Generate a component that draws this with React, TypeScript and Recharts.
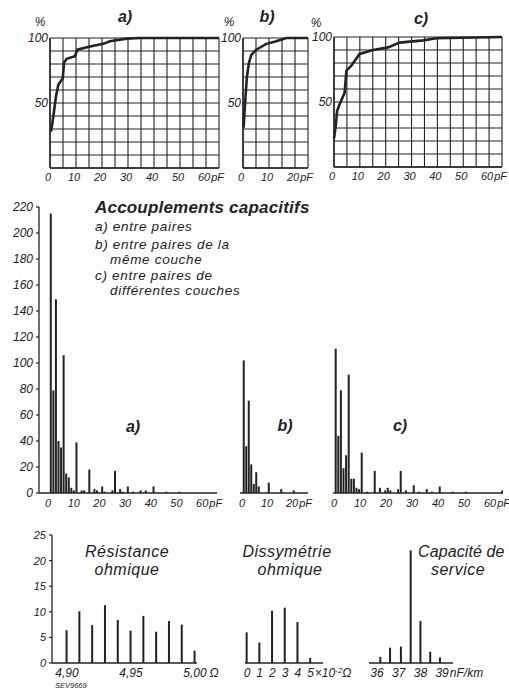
import React from "react";
import { LineChart, Line, BarChart, Bar, XAxis, YAxis, CartesianGrid } from "recharts";

// Accouplements capacitifs / résistance / dissymétrie / capacité — planche SEV 9669

const INK = "#222";
const FONT = "'Liberation Sans', Arial, sans-serif";

// --- courbes cumulées (haut) : x en pF, y en %
const cumAX = [0.4, 1.3, 2.3, 3.2, 4.9, 5.4, 6.4, 9.6, 10.5, 15.4, 20.5, 23, 29.5, 34.6, 65];
const cumAY = [28, 40, 55, 64, 69, 81, 84, 86, 91, 93.5, 95.5, 97.5, 99.5, 100, 100];
const cumBX = [0.25, 0.4, 0.8, 1.5, 2.3, 3.2, 5.1, 9, 12.8, 16.7, 25];
const cumBY = [31, 37, 50, 70, 81, 87, 91, 95.5, 97.5, 100, 100];
const cumCX = [0, 0.65, 1.2, 2.2, 4.1, 4.8, 6.7, 9.9, 15.1, 20.9, 25.4, 34.5, 39.6, 65];
const cumCY = [22, 31, 43, 48.5, 57, 74, 78, 87, 90, 92, 95.7, 97.4, 99, 100];

// --- histogrammes (milieu) : x en pF, y = nombre
const histAX = [0, 1, 2, 3, 4, 5, 6, 7, 8, 9, 10, 12, 13, 15, 17, 18, 20, 21, 24, 25, 27, 28, 30, 32, 35, 37, 40, 45, 50];
const histAY = [215, 79, 149, 40, 35, 106, 15, 12, 4, 2, 39, 2, 2, 18, 3, 2, 5, 1, 2, 17, 3, 1, 5, 1, 2, 2, 5, 1, 1];
const histBX = [0, 1, 2, 3, 4, 5, 6, 10, 15, 20];
const histBY = [102, 36, 71, 22, 7, 16, 5, 8, 3, 2];
const histCX = [0, 1, 2, 3, 4, 5, 6, 7, 8, 9, 10, 12, 15, 17, 19, 20, 21, 24, 25, 27, 30, 32, 35, 37, 40, 45, 50, 64];
const histCY = [111, 44, 79, 19, 29, 91, 11, 11, 4, 3, 31, 1, 17, 4, 2, 4, 2, 3, 17, 2, 6, 1, 3, 1, 5, 1, 1, 2];

// --- bas
const resX = [4.9, 4.91, 4.92, 4.93, 4.94, 4.95, 4.96, 4.97, 4.98, 4.99, 5.0];
const resY = [6.4, 10.1, 7.4, 11.3, 8.4, 6.3, 9.2, 6.1, 8.2, 7.5, 2.4];
const disX = [0, 1, 2, 3, 4, 5];
const disY = [6, 4, 10.2, 10.8, 8, 1];
const capX = [36.1, 36.55, 37.05, 37.5, 37.95, 38.4, 38.85];
const capY = [1.2, 3, 3.2, 22, 8.2, 2.2, 1.1];

// ticks
const grid65 = [0, 5, 10, 15, 20, 25, 30, 35, 40, 45, 50, 55, 60, 65];
const grid25 = [0, 5, 10, 15, 20, 25];
const pctTicks = [0, 10, 20, 30, 40, 50, 60, 70, 80, 90, 100];
const pFLabels60 = [0, 10, 20, 30, 40, 50, 60];
const pFLabels20 = [0, 10, 20];
const countTicks = [0, 20, 40, 60, 80, 100, 120, 140, 160, 180, 200, 220];
const resTicks = [4.9, 4.95, 5.0];
const smallTicks = [0, 5, 10, 15, 20, 25];
const capTicks = [36, 37, 38, 39];

type Rect = { x: number; y: number; w: number; h: number };
type Pad = { l: number; t: number; r: number; b: number };

function box(r: Rect, p: Pad) {
  return {
    style: { position: "absolute" as const, left: r.x - p.l, top: r.y - p.t },
    width: p.l + r.w + p.r,
    height: p.t + r.h + p.b,
    margin: { top: p.t, right: p.r, bottom: 0, left: 0 },
  };
}

type Lab = {
  show: number[];
  fmt?: (v: number) => string;
  unit?: React.ReactNode;
  unitAt?: number;
  dy: number;
  shift?: number;
  size?: number;
};

function xTick(l: Lab) {
  return (p: any) => {
    const v = p.payload.value;
    if (!l.show.includes(v)) return <g />;
    const s = l.size ?? 12;
    const x = p.x + (l.shift ?? -2);
    const txt = l.fmt ? l.fmt(v) : String(v);
    const common = { fontSize: s, fontStyle: "italic", fill: INK, fontFamily: FONT };
    return (
      <g>
        <text x={x} y={p.y + l.dy} textAnchor="middle" {...common}>
          {txt}
        </text>
        {l.unit && v === l.unitAt && (
          <text x={x + txt.length * s * 0.28 + 1} y={p.y + l.dy} textAnchor="start" {...common}>
            {l.unit}
          </text>
        )}
      </g>
    );
  };
}

function yTick(show: number[], size = 12) {
  return (p: any) => {
    const v = p.payload.value;
    if (!show.includes(v)) return <g />;
    return (
      <text x={p.x} y={p.y + size * 0.36} textAnchor="end" fontSize={size} fontStyle="italic" fill={INK} fontFamily={FONT}>
        {v}
      </text>
    );
  };
}

function CumChart({ r, xs, ys, xMax, gridX, labX }: { r: Rect; xs: number[]; ys: number[]; xMax: number; gridX: number[]; labX: number[] }) {
  const data = xs.map((x, i) => ({ x, y: ys[i] }));
  const b = box(r, { l: 30, t: 10, r: 24, b: 22 });
  return (
    <div style={b.style}>
      <LineChart width={b.width} height={b.height} margin={b.margin} data={data}>
        <CartesianGrid stroke={INK} strokeWidth={1.1} />
        <XAxis
          type="number"
          dataKey="x"
          domain={[0, xMax]}
          ticks={gridX}
          interval={0}
          height={22}
          axisLine={{ stroke: INK, strokeWidth: 1.4 }}
          tickLine={false}
          tickSize={0}
          tickMargin={0}
          tick={xTick({ show: labX, unit: "pF", unitAt: labX[labX.length - 1], dy: 13, size: 11 })}
        />
        <YAxis
          type="number"
          domain={[0, 100]}
          ticks={pctTicks}
          interval={0}
          width={30}
          axisLine={{ stroke: INK, strokeWidth: 1.4 }}
          tickLine={false}
          tickSize={0}
          tickMargin={2}
          tick={yTick([50, 100])}
        />
        <Line type="linear" dataKey="y" stroke={INK} strokeWidth={2.6} dot={false} isAnimationActive={false} />
      </LineChart>
    </div>
  );
}

function Hist({
  r, xs, ys, dom, yMax, ticksX, lab, yTicks, padL,
}: {
  r: Rect; xs: number[]; ys: number[]; dom: [number, number]; yMax: number; ticksX: number[]; lab: Lab; yTicks?: number[]; padL: number;
}) {
  const data = xs.map((x, i) => ({ x, y: ys[i] }));
  const b = box(r, { l: padL, t: 10, r: 40, b: 22 });
  return (
    <div style={b.style}>
      <BarChart width={b.width} height={b.height} margin={b.margin} data={data}>
        <XAxis
          type="number"
          dataKey="x"
          domain={dom}
          allowDataOverflow
          ticks={ticksX}
          interval={0}
          height={22}
          axisLine={{ stroke: INK, strokeWidth: 1.3 }}
          tickLine={false}
          tickSize={0}
          tickMargin={0}
          tick={xTick(lab)}
        />
        <YAxis
          type="number"
          domain={[0, yMax]}
          ticks={yTicks ?? [0, yMax]}
          interval={0}
          width={padL}
          axisLine={yTicks ? { stroke: INK, strokeWidth: 1.3 } : false}
          tickLine={yTicks ? { stroke: INK, strokeWidth: 1.2 } : false}
          tickSize={3}
          tickMargin={3}
          tick={yTicks ? yTick(yTicks, yMax > 100 ? 12 : 11) : false}
        />
        <Bar dataKey="y" fill={INK} barSize={2} isAnimationActive={false} />
      </BarChart>
    </div>
  );
}

function T({ x, y, s, b, c, ls, children }: { x: number; y: number; s: number; b?: boolean; c?: boolean; ls?: number; children: React.ReactNode }) {
  return (
    <div
      style={{
        position: "absolute",
        left: x,
        top: y - s * 0.55,
        fontSize: s,
        lineHeight: `${s}px`,
        letterSpacing: ls ?? 0,
        fontStyle: "italic",
        fontWeight: b ? 700 : 400,
        color: INK,
        whiteSpace: "nowrap",
        transform: c ? "translateX(-50%)" : undefined,
      }}
    >
      {children}
    </div>
  );
}

export default function App() {
  return (
    <div style={{ position: "absolute", left: 0, top: 0, width: 509, height: 691, overflow: "hidden", background: "#fff", fontFamily: FONT }}>
      {/* haut : répartitions cumulées */}
      <CumChart r={{ x: 50, y: 38, w: 169, h: 130 }} xs={cumAX} ys={cumAY} xMax={65} gridX={grid65} labX={pFLabels60} />
      <CumChart r={{ x: 243, y: 38, w: 65, h: 130 }} xs={cumBX} ys={cumBY} xMax={25} gridX={grid25} labX={pFLabels20} />
      <CumChart r={{ x: 334, y: 37, w: 168, h: 130 }} xs={cumCX} ys={cumCY} xMax={65} gridX={grid65} labX={pFLabels60} />
      <T x={40} y={23} s={12} c>%</T>
      <T x={229} y={23} s={12} c>%</T>
      <T x={316} y={24} s={12} c>%</T>
      <T x={125} y={18} s={16} b c>a)</T>
      <T x={267} y={18} s={16} b c>b)</T>
      <T x={421} y={20} s={16} b c>c)</T>

      {/* milieu : histogrammes */}
      <Hist
        r={{ x: 39, y: 207, w: 178, h: 286 }}
        xs={histAX} ys={histAY} dom={[-4.7, 64.6]} yMax={220}
        ticksX={pFLabels60}
        lab={{ show: pFLabels60, unit: "pF", unitAt: 60, dy: 14, shift: -3, size: 11 }}
        yTicks={countTicks} padL={39}
      />
      <Hist
        r={{ x: 240, y: 207, w: 68, h: 286 }}
        xs={histBX} ys={histBY} dom={[-1.6, 25.6]} yMax={220}
        ticksX={pFLabels20}
        lab={{ show: pFLabels20, unit: "pF", unitAt: 20, dy: 14, shift: -2, size: 11 }}
        padL={5}
      />
      <Hist
        r={{ x: 333, y: 207, w: 170, h: 286 }}
        xs={histCX} ys={histCY} dom={[-1.15, 64.2]} yMax={220}
        ticksX={pFLabels60}
        lab={{ show: pFLabels60, unit: "pF", unitAt: 60, dy: 14, shift: -2, size: 11 }}
        padL={5}
      />
      <T x={95} y={208} s={17} b ls={0.2}>Accouplements capacitifs</T>
      <T x={95} y={227} s={13.5} ls={0.7}>a) entre paires</T>
      <T x={95} y={245} s={13.5} ls={0.7}>b) entre paires de la</T>
      <T x={110} y={260} s={13.5} ls={0.7}>même couche</T>
      <T x={95} y={276} s={13.5} ls={0.7}>c) entre paires de</T>
      <T x={110} y={291} s={13.5} ls={0.7}>différentes couches</T>
      <T x={133} y={428} s={16} b c>a)</T>
      <T x={285} y={427} s={16} b c>b)</T>
      <T x={400} y={427} s={16} b c>c)</T>

      {/* bas */}
      <Hist
        r={{ x: 52, y: 535, w: 145, h: 128 }}
        xs={resX} ys={resY} dom={[4.8883, 5.0016]} yMax={25}
        ticksX={resTicks}
        lab={{ show: resTicks, fmt: (v) => v.toFixed(2).replace(".", ","), unit: "Ω", unitAt: 5, dy: 14, shift: 0, size: 12 }}
        yTicks={smallTicks} padL={40}
      />
      <Hist
        r={{ x: 245, y: 535, w: 78, h: 128 }}
        xs={disX} ys={disY} dom={[-0.157, 5.984]} yMax={25}
        ticksX={disX}
        lab={{
          show: disX,
          unit: (
            <>
              ×10<tspan dy={-4} fontSize={8}>-2</tspan>
              <tspan dy={4}>Ω</tspan>
            </>
          ),
          unitAt: 5, dy: 14, shift: 0, size: 12,
        }}
        padL={5}
      />
      <Hist
        r={{ x: 369, y: 535, w: 84, h: 128 }}
        xs={capX} ys={capY} dom={[35.585, 39.456]} yMax={25}
        ticksX={capTicks}
        lab={{ show: capTicks, unit: "nF/km", unitAt: 39, dy: 14, shift: -1, size: 12 }}
        padL={5}
      />
      <T x={127} y={553} s={16} c ls={0.5}>Résistance</T>
      <T x={127} y={571} s={16} c ls={0.5}>ohmique</T>
      <T x={287} y={553} s={16} c ls={0.5}>Dissymétrie</T>
      <T x={290} y={571} s={16} c ls={0.5}>ohmique</T>
      <T x={418} y={553} s={16} ls={0.1}>Capacité de</T>
      <T x={458} y={571} s={16} c ls={0.5}>service</T>
      <T x={55} y={686} s={7.5}>SEV9669</T>
    </div>
  );
}
